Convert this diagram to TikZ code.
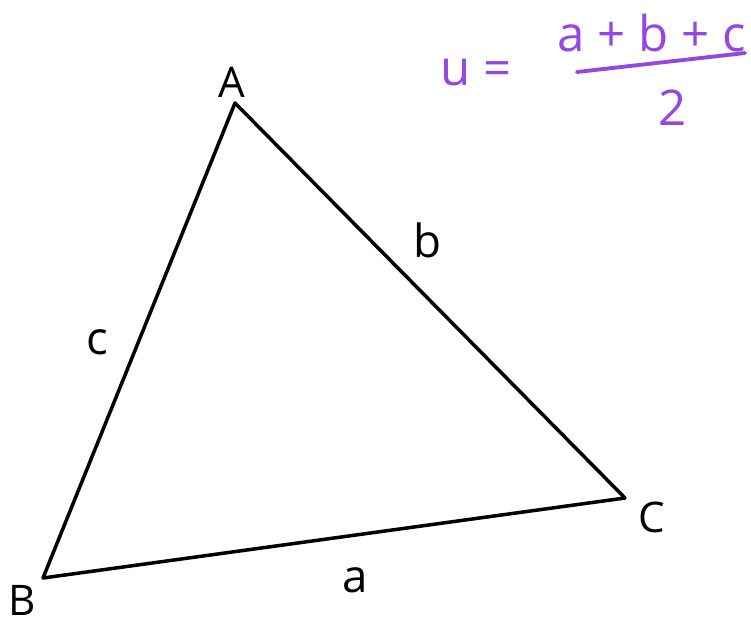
\documentclass[tikz,border=0pt]{standalone}
\usepackage{fontspec}
\setmainfont{Open Sans}
\usepackage{xcolor}
\usetikzlibrary{calc, positioning}
\definecolor{penpurple}{RGB}{150,70,225}

\begin{document}
\begin{tikzpicture}[x=0.02cm, y=-0.02cm, line join=round, line cap=round]
    \useasboundingbox (0,0) rectangle (751,623);
    \tikzset{
        vlabel/.style={font=\fontsize{24}{28}\selectfont, inner sep=0pt},
        slabel/.style={font=\fontsize{26}{30}\selectfont, inner sep=0pt},
        formula/.style={font=\fontsize{28}{32}\selectfont, inner sep=0pt, text=penpurple}
    }
    % Đỉnh tam giác
    \coordinate (A) at (235,103);
    \coordinate (B) at (43,578);
    \coordinate (C) at (625,498);
    \draw[line width=2pt] (A) -- (B) -- (C) -- cycle;

    % Tên các đỉnh
    \node[vlabel] (lA) at (232,82) {A};
    \node[vlabel] (lB) at (22,600) {B};
    \node[vlabel] (lC) at (652,517) {C};

    % Tên các cạnh
    \node[slabel] (lc) at (97,342) {c};
    \node[slabel] (lb) at (427,240) {b};
    \node[slabel] (la) at (355,580) {a};

    % Công thức nửa chu vi
    \node[formula] (lu) at (476,73) {u =};
    \node[formula] (num) at (652,33) {a + b + c};
    \node[formula] (den) at (673,108) {2};
    \coordinate (barL) at (577,72);
    \coordinate (barR) at (745,53);
    \draw[penpurple, line width=2.2pt] (barL) -- (barR);
\end{tikzpicture}
\end{document}
